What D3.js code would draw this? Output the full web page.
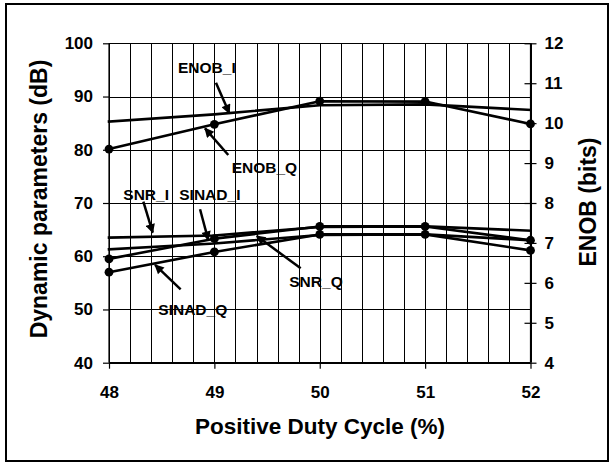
<!DOCTYPE html>
<html>
<head>
<meta charset="utf-8">
<script src="https://cdn.jsdelivr.net/npm/d3@7/dist/d3.min.js"></script>
<style>
  html, body { margin: 0; padding: 0; background: #fff; }
  svg { display: block; }
  text { font-family: "Liberation Sans", Arial, Helvetica, sans-serif; font-weight: bold; fill: #000; }
</style>
</head>
<body>
<svg id="chart" width="614" height="464"></svg>
<script>
// ---- Data ----
const dutyCycle = [48, 49, 50, 51, 52];
const xTicks = [48, 49, 50, 51, 52];
const dbTicks = [40, 50, 60, 70, 80, 90, 100];
const bitTicks = [4, 5, 6, 7, 8, 9, 10, 11, 12];

// dB series (left axis)
const snrI   = [63.5, 63.9, 65.5, 65.6, 64.8];
const sinadI = [61.3, 62.4, 64.0, 64.1, 63.0];
const snrQ   = [59.5, 63.3, 65.6, 65.6, 63.0];
const sinadQ = [57.0, 60.8, 64.1, 64.1, 61.1];
// ENOB series (right axis, bits)
const enobI  = [10.04, 10.22, 10.45, 10.47, 10.33];
const enobQ  = [9.35, 9.97, 10.55, 10.54, 9.98];

// annotation labels and arrows, in data units (duty %, dB)
const annLabels = ["ENOB_I", "ENOB_Q", "SNR_I", "SINAD_I", "SNR_Q", "SINAD_Q"];
const annTextX  = [48.655, 49.164, 48.136, 48.667, 49.711, 48.468];
const annTextY  = [94.48, 75.69, 70.56, 70.56, 54.16, 48.96];
const arrowFromX = [49.015, 49.132, 48.326, 48.864, 49.819, 48.68];
const arrowFromY = [92.6, 79.02, 70.24, 68.82, 57.73, 53.79];
const arrowToX   = [49.142, 48.911, 48.415, 48.942, 49.402, 48.437];
const arrowToY   = [86.85, 84.03, 64.42, 63.05, 63.8, 58.36];

// ---- Layout ----
const svg = d3.select("#chart");
const pLeft = 109, pRight = 530.5, pTop = 43.3, pBottom = 362.7;

const x = d3.scaleLinear().domain([48, 52]).range([pLeft, pRight]);
const yDb = d3.scaleLinear().domain([40, 100]).range([pBottom, pTop]);
const yBit = d3.scaleLinear().domain([4, 12]).range([pBottom, pTop]);

// outer frame
svg.append("rect").attr("x", 6).attr("y", 4).attr("width", 602).attr("height", 457)
  .attr("fill", "none").attr("stroke", "#000").attr("stroke-width", 2);

// grid
const g = svg.append("g");
const minorX = d3.range(0, 21).map(i => 48 + i * 0.2);
g.selectAll("line.vg").data(minorX).enter().append("line")
  .attr("x1", d => Math.round(x(d)) + 0.5).attr("x2", d => Math.round(x(d)) + 0.5)
  .attr("y1", pTop).attr("y2", pBottom)
  .attr("stroke", "#000").attr("stroke-width", 1);
g.selectAll("line.hg").data(dbTicks).enter().append("line")
  .attr("x1", pLeft).attr("x2", pRight)
  .attr("y1", d => Math.round(yDb(d)) + 0.5).attr("y2", d => Math.round(yDb(d)) + 0.5)
  .attr("stroke", "#000").attr("stroke-width", 1);

// axes
const axL = d3.axisLeft(yDb).tickValues(dbTicks).tickSize(6).tickPadding(10);
const axR = d3.axisRight(yBit).tickValues(bitTicks).tickSize(6).tickPadding(8);
const axB = d3.axisBottom(x).tickValues(xTicks).tickSize(6).tickPadding(17).tickFormat(d3.format("d"));

function styleAxis(sel) {
  sel.selectAll("path.domain").attr("stroke", "#000").attr("stroke-width", 1.2);
  sel.selectAll(".tick line").attr("stroke", "#000").attr("stroke-width", 1.2);
  sel.selectAll(".tick text").style("font-size", "17px").style("font-family", "Liberation Sans, Arial, sans-serif").style("font-weight", "bold").attr("fill", "#000");
}
const gL = svg.append("g").attr("transform", `translate(${pLeft},0)`).call(axL).call(styleAxis);
const gR = svg.append("g").attr("transform", `translate(${pRight},0)`).call(axR).call(styleAxis);
const gB = svg.append("g").attr("transform", `translate(0,${pBottom})`).call(axB).call(styleAxis);
gR.selectAll(".tick line").attr("x1", -6);
gL.selectAll("path.domain").attr("d", `M0,${pTop}V${pBottom}`);
gR.selectAll("path.domain").attr("d", `M0,${pTop}V${pBottom}`);
gB.selectAll("path.domain").attr("d", `M${pLeft},0H${pRight}`);

// titles
svg.append("text").attr("x", 320).attr("y", 434).attr("text-anchor", "middle")
  .style("font-size", "22.5px").text("Positive Duty Cycle (%)");
svg.append("text").attr("transform", "translate(47,199) rotate(-90)").attr("text-anchor", "middle")
  .style("font-size", "23px").text("Dynamic parameters (dB)");
svg.append("text").attr("transform", "translate(596,202) rotate(-90)").attr("text-anchor", "middle")
  .style("font-size", "23px").text("ENOB (bits)");

// series
const lineDb = vals => d3.line().x((d, i) => x(dutyCycle[i])).y(d => yDb(d))(vals);
const lineBit = vals => d3.line().x((d, i) => x(dutyCycle[i])).y(d => yBit(d))(vals);

const series = [
  { vals: snrI, scale: yDb, gen: lineDb, marker: false },
  { vals: sinadI, scale: yDb, gen: lineDb, marker: false },
  { vals: snrQ, scale: yDb, gen: lineDb, marker: true },
  { vals: sinadQ, scale: yDb, gen: lineDb, marker: true },
  { vals: enobI, scale: yBit, gen: lineBit, marker: false },
  { vals: enobQ, scale: yBit, gen: lineBit, marker: true }
];
series.forEach(s => {
  svg.append("path").attr("d", s.gen(s.vals)).attr("fill", "none")
    .attr("stroke", "#000").attr("stroke-width", 2.6).attr("stroke-linejoin", "round")
    .attr("stroke-linecap", s.marker ? "butt" : "square");
  if (s.marker) {
    svg.selectAll(null).data(s.vals).enter().append("circle")
      .attr("cx", (d, i) => x(dutyCycle[i])).attr("cy", d => s.scale(d))
      .attr("r", 4.4).attr("fill", "#000");
  }
});

// annotations
const defs = svg.append("defs");
defs.append("marker").attr("id", "ah").attr("viewBox", "0 0 10 10")
  .attr("refX", 9).attr("refY", 5).attr("markerWidth", 4.6).attr("markerHeight", 3.8)
  .attr("markerUnits", "strokeWidth").attr("orient", "auto")
  .append("path").attr("d", "M0,0L10,5L0,10Z").attr("fill", "#000");

annLabels.forEach((lab, i) => {
  svg.append("line")
    .attr("x1", x(arrowFromX[i])).attr("y1", yDb(arrowFromY[i]))
    .attr("x2", x(arrowToX[i])).attr("y2", yDb(arrowToY[i]))
    .attr("stroke", "#000").attr("stroke-width", 2.5).attr("marker-end", "url(#ah)");
  svg.append("text").attr("x", x(annTextX[i])).attr("y", yDb(annTextY[i]))
    .style("font-size", "15.5px").text(lab);
});
</script>
</body>
</html>
